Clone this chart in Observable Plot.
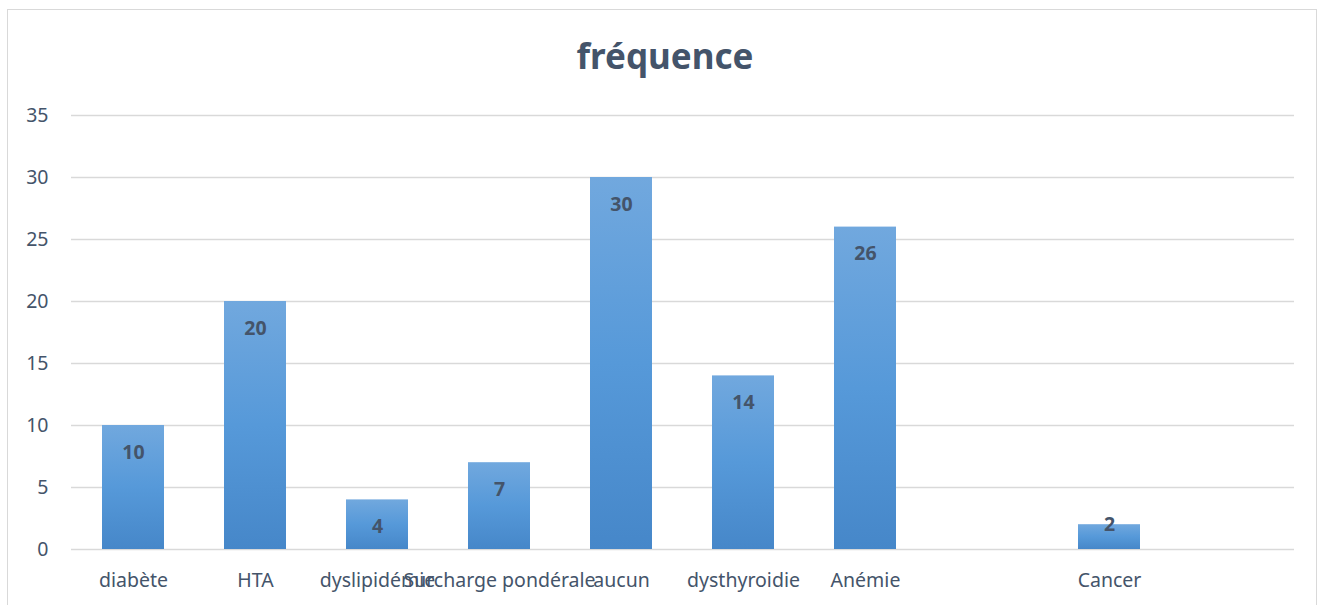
<!DOCTYPE html>
<html>
<head>
<meta charset="utf-8">
<script src="https://cdn.jsdelivr.net/npm/d3@7"></script>
<script src="https://cdn.jsdelivr.net/npm/@observablehq/plot@0.6"></script>
<style>
  html, body { margin: 0; padding: 0; background: #fff; }
  body { width: 1324px; height: 605px; position: relative; overflow: hidden; font-family: "Noto Sans", sans-serif; }
  #frame { position: absolute; left: 7px; top: 9px; width: 1310px; height: 610px; border: 1.5px solid #d9d9d9; box-sizing: border-box; }
  #title { position: absolute; left: 0; width: 1330px; top: 32px; text-align: center; font-size: 35px; font-weight: bold; color: #44546a; line-height: 48px; }
  #chart { position: absolute; left: 0; top: 0; }
</style>
</head>
<body>
<div id="frame"></div>
<div id="title">fréquence</div>
<div id="chart"></div>
<script>
const categories = ["diabète", "HTA", "dyslipidémie", "Surcharge pondérale", "aucun", "dysthyroidie", "Anémie", "", "Cancer", " "];
const values = [10, 20, 4, 7, 30, 14, 26, null, 2, null];
const yTicks = [0, 5, 10, 15, 20, 25, 30, 35];

const data = categories.map((c, i) => ({c, v: values[i]})).filter(d => d.v != null);

const defs = () => {
  const svg = d3.create("svg:g");
  const g = svg.append("defs").append("linearGradient")
    .attr("id", "barGrad").attr("x1", 0).attr("y1", 0).attr("x2", 0).attr("y2", 1);
  g.append("stop").attr("offset", "0%").attr("stop-color", "#71a8de");
  g.append("stop").attr("offset", "50%").attr("stop-color", "#5699d9");
  g.append("stop").attr("offset", "100%").attr("stop-color", "#4687c9");
  return svg.node();
};

const chart = Plot.plot({
  width: 1324,
  height: 605,
  marginLeft: 71,
  marginRight: 30,
  marginTop: 115,
  marginBottom: 56,
  style: {fontFamily: "'Noto Sans', sans-serif", fontSize: "19.5px", color: "#44546a", background: "transparent", overflow: "visible"},
  x: {domain: categories, paddingInner: 0.49, paddingOuter: 0.245, label: null},
  y: {domain: [0, 35], label: null},
  marks: [
    defs,
    Plot.gridY(yTicks, {stroke: "#d9d9d9", strokeOpacity: 1, strokeWidth: 1.5}),
    Plot.barY(data, {x: "c", y: "v", fill: "url(#barGrad)"}),
    Plot.text(data.filter(d => d.v >= 4), {x: "c", y: "v", text: d => String(d.v), dy: 27, fontWeight: "bold", fontSize: 19.5, fill: "#44546a"}),
    Plot.text(data.filter(d => d.v < 4), {x: "c", y: "v", text: d => String(d.v), dy: 0, fontWeight: "bold", fontSize: 19.5, fill: "#44546a"}),
    Plot.axisY({ticks: yTicks, tickSize: 0, tickPadding: 23, fontSize: 19.5, fill: "#44546a"}),
    Plot.axisX({tickSize: 0, tickPadding: 24, fontSize: 19.5, fill: "#44546a"})
  ]
});
document.getElementById("chart").appendChild(chart);
</script>
</body>
</html>
